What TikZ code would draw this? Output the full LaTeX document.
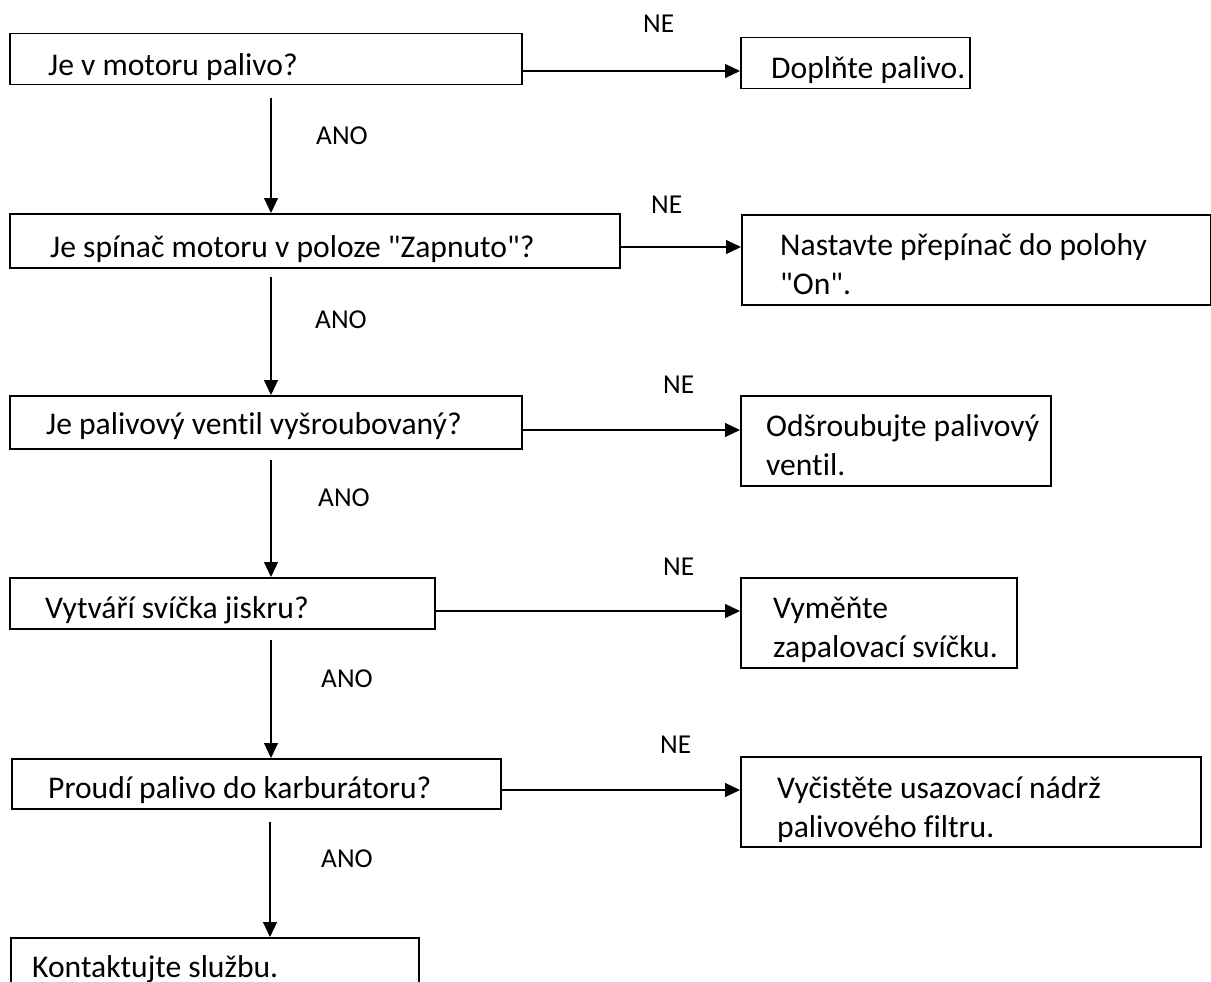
\documentclass[tikz,border=0pt]{standalone}
\usepackage{fontspec}
\setmainfont{Carlito}[Ligatures={TeXOff,NoCommon}]
\usetikzlibrary{arrows.meta}
\begin{document}
\begin{tikzpicture}[x=1pt,y=-1pt,
  box/.style={draw, line width=1.5pt, rectangle, anchor=north west, inner sep=0pt},
  txt/.style={anchor=base west, inner sep=0pt, font=\fontsize{31.6}{39}\selectfont},
  lbl/.style={anchor=base west, inner sep=0pt, font=\fontsize{27.3}{33}\selectfont},
  arr/.style={line width=1.1pt, -{Triangle[length=15pt,width=14pt]}}]
\useasboundingbox (0,0) rectangle (1211,982);
\fill[white] (0,0) rectangle (1211,982);
\clip (0,0) rectangle (1211,982);

% question boxes
\node[box, minimum width=512pt, minimum height=51pt] (b1) at (9,33) {};
\node[box, minimum width=610pt, minimum height=54pt] (b2) at (9,213) {};
\node[box, minimum width=512pt, minimum height=53pt] (b3) at (9,395) {};
\node[box, minimum width=425pt, minimum height=51pt] (b4) at (9,577) {};
\node[box, minimum width=489pt, minimum height=50pt] (b5) at (11,758) {};
\node[box, minimum width=408pt, minimum height=70pt] (b6) at (10,937) {};

% answer boxes
\node[box, minimum width=229pt, minimum height=51pt] (r1) at (740,37) {};
\node[box, minimum width=469pt, minimum height=90pt] (r2) at (741,214) {};
\node[box, minimum width=310pt, minimum height=90pt] (r3) at (740,395) {};
\node[box, minimum width=276pt, minimum height=90pt] (r4) at (740,577) {};
\node[box, minimum width=460pt, minimum height=90pt] (r5) at (740,756) {};

% texts
\node[txt] (t1) at (48,76) {Je v motoru palivo?};
\node[txt] (t2) at (50,257) {Je spínač motoru v poloze "Zapnuto"?};
\node[txt] (t3) at (46,434) {Je palivový ventil vyšroubovaný?};
\node[txt] (t4) at (45,618) {Vytváří svíčka jiskru?};
\node[txt] (t5) at (48,798) {Proudí palivo do karburátoru?};
\node[txt] (t6) at (32,977) {Kontaktujte službu.};

\node[txt] (u1) at (771,78) {Doplňte palivo.};
\node[txt] (u2) at (780,255) {\vtop{\hbox{Nastavte přepínač do polohy}\hbox{"On".}}};
\node[txt] (u3) at (766,436) {\vtop{\hbox{Odšroubujte palivový}\hbox{ventil.}}};
\node[txt] (u4) at (773,618) {\vtop{\hbox{Vyměňte}\hbox{zapalovací svíčku.}}};
\node[txt] (u5) at (777,798) {\vtop{\hbox{Vyčistěte usazovací nádrž}\hbox{palivového filtru.}}};

% NE labels
\node[lbl] (n1) at (643,33) {NE};
\node[lbl] (n2) at (651,213) {NE};
\node[lbl] (n3) at (663,393) {NE};
\node[lbl] (n4) at (663,575) {NE};
\node[lbl] (n5) at (660,753) {NE};

% ANO labels
\node[lbl] (a1) at (316,144) {ANO};
\node[lbl] (a2) at (315,328) {ANO};
\node[lbl] (a3) at (318,506) {ANO};
\node[lbl] (a4) at (321,687) {ANO};
\node[lbl] (a5) at (321,867) {ANO};

% NE connectors
\draw[arr] (b1.east |- 0,71) -- (r1.west |- 0,71);
\draw[arr] (b2.east |- 0,247) -- (r2.west |- 0,247);
\draw[arr] (b3.east |- 0,430) -- (r3.west |- 0,430);
\draw[arr] (b4.east |- 0,611) -- (r4.west |- 0,611);
\draw[arr] (b5.east |- 0,790) -- (r5.west |- 0,790);

% ANO connectors
\coordinate (d1) at (271,98);
\coordinate (d2) at (271,277);
\coordinate (d3) at (271,460);
\coordinate (d4) at (271,640);
\coordinate (d5) at (270,822);
\draw[arr] (d1) -- (d1 |- b2.north);
\draw[arr] (d2) -- (d2 |- b3.north);
\draw[arr] (d3) -- (d3 |- b4.north);
\draw[arr] (d4) -- (d4 |- b5.north);
\draw[arr] (d5) -- (d5 |- b6.north);
\end{tikzpicture}
\end{document}
